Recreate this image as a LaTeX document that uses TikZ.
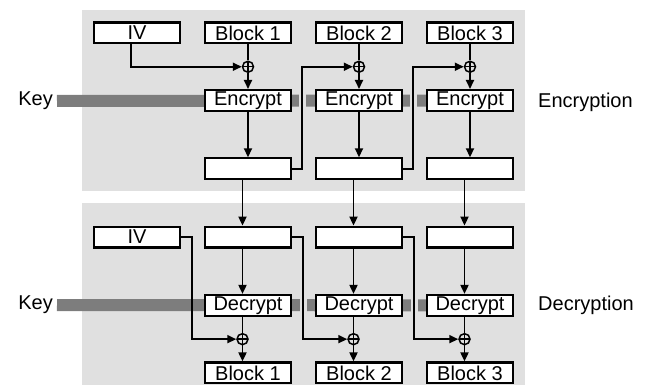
\documentclass[tikz,border=0pt]{standalone}
\usepackage{fontspec}
\setmainfont{Liberation Sans}
\usetikzlibrary{arrows.meta, positioning, backgrounds}

\definecolor{panelgray}{RGB}{224,224,224}
\definecolor{keygray}{RGB}{125,125,125}

\begin{document}
\begin{tikzpicture}[x=1pt, y=-1pt, >={Triangle[length=9pt, width=8pt]},
  node distance=45.3pt and 23pt,
  box/.style={draw, fill=white, line width=2.2pt, minimum width=85.8pt,
    minimum height=20.8pt, inner sep=0pt, font=\fontsize{20}{22}\selectfont},
  xorc/.style={circle, draw, line width=1.5pt, inner sep=0pt, minimum size=11pt,
    path picture={\draw[line width=1.5pt]
      (path picture bounding box.north) -- (path picture bounding box.south)
      (path picture bounding box.west) -- (path picture bounding box.east);}},
  wire/.style={line width=1.8pt},
  keybar/.style={keygray, line width=12pt},
  sidelabel/.style={inner sep=0pt, font=\fontsize{20}{22}\selectfont}]

\useasboundingbox (0,0) rectangle (651,385);

% Encryption: top row
\node[box] (iv) at (137,33) {IV};
\node[box, right=of iv] (b1) {Block 1};
\node[box, right=of b1] (b2) {Block 2};
\node[box, right=of b2] (b3) {Block 3};

% xor, cipher and output per column
\foreach \i in {1,2,3} {
  \node[xorc, below=16pt of b\i] (x\i) {};
  \node[box, below=16pt of x\i] (e\i) {Encrypt};
  \node[box, below=of e\i] (o\i) {};
}

% Decryption: inputs
\node[box, below=of o1] (c1) {};
\node[box, below=of o2] (c2) {};
\node[box, below=of o3] (c3) {};
\node[box, left=of c1] (ivd) {IV};

\foreach \i in {1,2,3} {
  \node[box, below=of c\i] (d\i) {Decrypt};
  \node[xorc, below=16pt of d\i, xshift=-5.5pt] (y\i) {};
  \node[box, below=16pt of y\i, xshift=5.5pt] (p\i) {Block \i};
}

% Side labels
\node[sidelabel, anchor=east] (keyE) at (53,101) {Key};
\node[sidelabel, anchor=east] (keyD) at (53,305) {Key};
\node[sidelabel, anchor=west] (encl) at (538,102) {Encryption};
\node[sidelabel, anchor=west] (decl) at (538,305) {Decryption};

% Feedback bends
\coordinate (f1) at ([xshift=10pt]o1.east);
\coordinate (f2) at ([xshift=10pt]o2.east);
\coordinate (g0) at ([xshift=11pt]ivd.east);
\coordinate (g1) at ([xshift=11pt]c1.east);
\coordinate (g2) at ([xshift=11pt]c2.east);

% Panels and key bars
\begin{scope}[on background layer]
  \fill[panelgray] (82,10) rectangle (525,191);
  \fill[panelgray] (82,203) rectangle (525,390);
  \draw[keybar] ([xshift=4pt]keyE.east) -- (e3.center);
  \draw[keybar] ([xshift=4pt]keyD.east) -- (d3.center);
  \foreach \c/\r in {f1/e1, f2/e2, g1/d1, g2/d2}
    \fill[panelgray] ([xshift=-3.5pt]\c |- \r.north) rectangle ([xshift=3.5pt]\c |- \r.south);
\end{scope}

% Encryption wires
\draw[wire, ->] ([xshift=-6pt]iv.south) |- (x1.west);
\draw[wire, ->] (o1.east) -- (f1) |- (x2.west);
\draw[wire, ->] (o2.east) -- (f2) |- (x3.west);
\foreach \i in {1,2,3} {
  \draw[wire] (b\i) -- (x\i);
  \draw[wire, ->] (x\i) -- (e\i);
  \draw[wire, ->] (e\i) -- (o\i);
  \draw[wire, ->] ([xshift=-5.5pt]o\i.south) -- ([xshift=-5.5pt]c\i.north);
}

% Decryption wires
\draw[wire, ->] (ivd.east) -- (g0) |- (y1.west);
\draw[wire, ->] (c1.east) -- (g1) |- (y2.west);
\draw[wire, ->] (c2.east) -- (g2) |- (y3.west);
\foreach \i in {1,2,3} {
  \draw[wire, ->] ([xshift=-5.5pt]c\i.south) -- ([xshift=-5.5pt]d\i.north);
  \draw[wire] ([xshift=-5.5pt]d\i.south) -- (y\i);
  \draw[wire, ->] (y\i) -- ([xshift=-5.5pt]p\i.north);
}

\end{tikzpicture}
\end{document}
